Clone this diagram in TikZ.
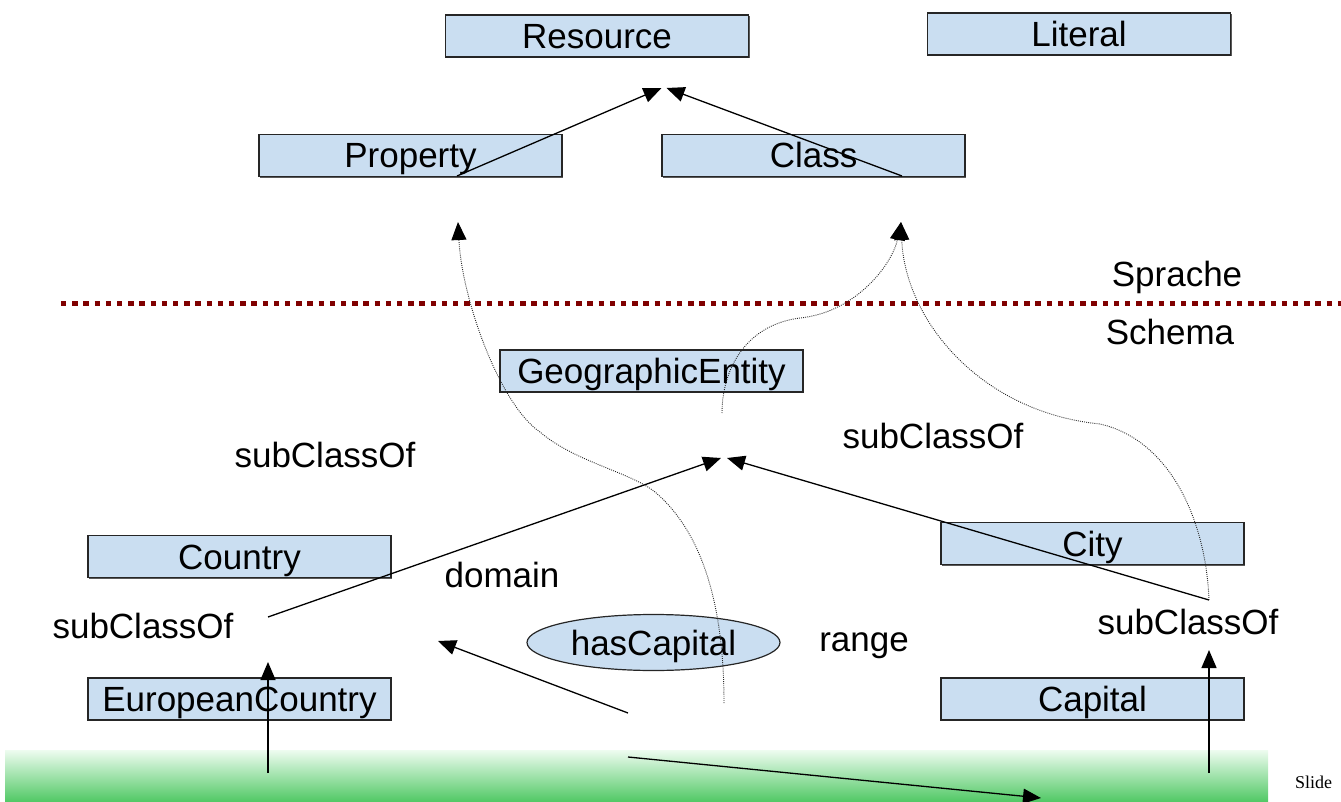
\documentclass[tikz,border=0pt]{standalone}
\usepackage{fontspec}
\setmainfont{Liberation Sans}
\newfontfamily\slidefont{Liberation Serif}
\usetikzlibrary{arrows.meta,shapes.geometric,shadows}
\definecolor{boxfill}{RGB}{202,222,241}
\definecolor{sepred}{RGB}{128,0,0}
\definecolor{gtop}{RGB}{238,252,240}
\definecolor{gbot}{RGB}{80,200,100}
\tikzset{
  big/.style={font=\fontsize{35}{42}\selectfont, text height=25pt, text depth=0pt, inner sep=0pt},
  clsbox/.style={big, draw=black!85, line width=1.2pt, fill=boxfill, minimum width=303pt, minimum height=42pt,
    drop shadow={shadow xshift=1.2pt, shadow yshift=-1.2pt, opacity=1, fill=black!65}},
  propell/.style={big, ellipse, draw=black!85, line width=1.2pt, fill=boxfill, minimum width=253pt, minimum height=56pt},
  lbl/.style={big},
  solidarr/.style={-{Triangle[length=18pt,width=15pt]}, line width=1.3pt, draw=black},
  dotarr/.style={-{Triangle[length=18pt,width=15pt,color=black]}, line width=0.9pt, draw=black!85, dash pattern=on 0.9pt off 1.2pt},
  sepline/.style={draw=sepred, line width=5pt, dash pattern=on 5.3pt off 5.9pt},
}
\begin{document}
\begin{tikzpicture}[x=1pt,y=-1pt]
\useasboundingbox (0,0) rectangle (1341,802);
% green band
\shade[top color=gtop, bottom color=gbot] (5,750) rectangle (1268,802);
\node[anchor=base west, inner sep=0pt, font=\slidefont\fontsize{18}{20}\selectfont] (slide) at (1295,788) {Slide};

% separator
\coordinate (sepL) at (61,303.5);
\coordinate (sepR) at (1346,303.5);
\draw[sepline] (sepL) -- (sepR);
\node[lbl] (sprache) at (1177,274) {Sprache};
\node[lbl] (schema) at (1170,332) {Schema};

% classes
\node[clsbox] (res) at (597,36) {Resource};
\node[clsbox] (lit) at (1079,34) {Literal};
\node[clsbox] (prop) at (410.5,155.5) {Property};
\node[clsbox] (cls) at (813.5,155.5) {Class};
\node[clsbox] (geo) at (651.5,371) {GeographicEntity};
\node[clsbox] (country) at (239.5,556.5) {Country};
\node[clsbox] (city) at (1092.5,543.5) {City};
\node[clsbox] (euro) at (239.5,699) {EuropeanCountry};
\node[clsbox] (capital) at (1092.5,699) {Capital};
\node[propell] (hascap) at (653.5,642.5) {hasCapital};

% labels
\node[lbl] (sc1) at (325,455) {subClassOf};
\node[lbl] (sc2) at (933,436) {subClassOf};
\node[lbl] (dom) at (502,575) {domain};
\node[lbl] (sc3) at (143,626) {subClassOf};
\node[lbl] (rng) at (864,639) {range};
\node[lbl] (sc4) at (1188,622) {subClassOf};

% coordinates for connector ends
\coordinate (p1s) at (457,176);
\coordinate (p1t) at (661.5,88);
\coordinate (p2s) at (902,176);
\coordinate (p2t) at (666.5,88);
\coordinate (g1s) at (268,617);
\coordinate (g1t) at (721,458);
\coordinate (g2s) at (1209,600);
\coordinate (g2t) at (727,458);
\coordinate (ds) at (628,713);
\coordinate (dt) at (438,641);
\coordinate (rs) at (628,757);
\coordinate (rt) at (1041,798);
\coordinate (e1s) at (268,773);
\coordinate (e1t) at (268,662);
\coordinate (c1s) at (1209,773);
\coordinate (c1t) at (1209,650);
\coordinate (ta) at (724,703);
\coordinate (tb) at (722,413);
\coordinate (tpr) at (458,222);
\coordinate (tcl) at (901,222);

% solid arrows
\draw[solidarr] (p1s) -- (p1t);
\draw[solidarr] (p2s) -- (p2t);
\draw[solidarr] (g1s) -- (g1t);
\draw[solidarr] (g2s) -- (g2t);
\draw[solidarr] (ds) -- (dt);
\draw[solidarr] (rs) -- (rt);
\draw[solidarr] (e1s) -- (e1t);
\draw[solidarr] (c1s) -- (c1t);

% dotted instance-of curves
\draw[dotarr] (ta) .. controls (724,600) and (700,530) .. (655,492)
  .. controls (630,472) and (575,462) .. (540,432)
  .. controls (500,405) and (462,300) .. (tpr);
\draw[dotarr] (tb) .. controls (722,370) and (745,325) .. (800,318)
  .. controls (858,312) and (893,262) .. (tcl);
\draw[dotarr] (g2s) .. controls (1206,520) and (1170,440) .. (1100,424)
  .. controls (980,412) and (905,320) .. (tcl);
\end{tikzpicture}
\end{document}
